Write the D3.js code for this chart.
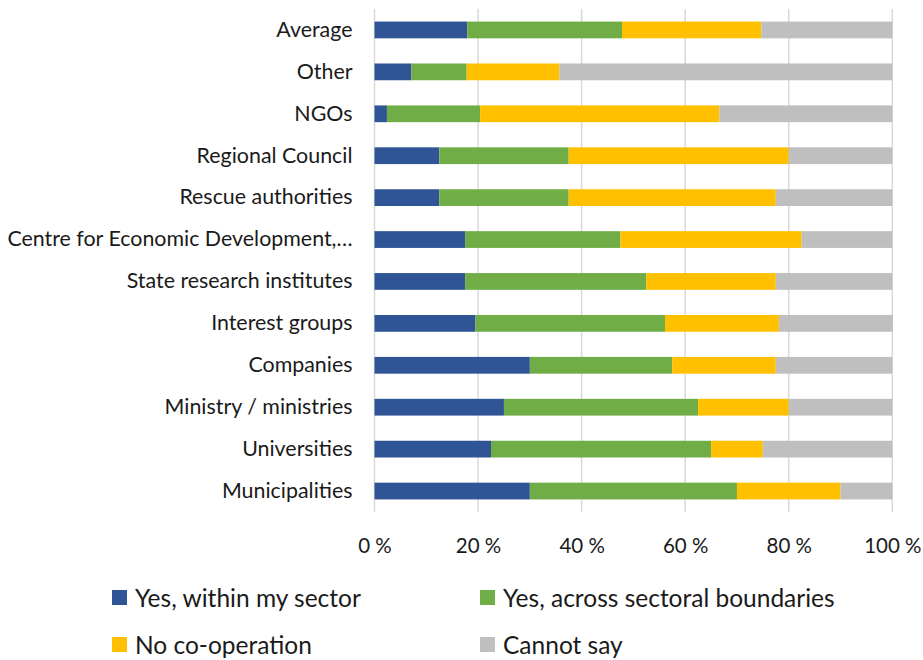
<!DOCTYPE html>
<html>
<head>
<meta charset="utf-8">
<script src="https://cdn.jsdelivr.net/npm/d3@7"></script>
<style>
  html, body { margin: 0; padding: 0; background: #fff; }
  svg { display: block; font-family: Lato, "Open Sans", sans-serif; }
</style>
</head>
<body>
<svg id="chart" width="923" height="660"></svg>
<script>
// Categories, top to bottom
const categories = [
  "Average", "Other", "NGOs", "Regional Council", "Rescue authorities",
  "Centre for Economic Development,…", "State research institutes",
  "Interest groups", "Companies", "Ministry / ministries",
  "Universities", "Municipalities"
];

// Shares (%) per response
const withinSector = [17.9, 7.1, 2.4, 12.5, 12.5, 17.5, 17.5, 19.5, 30.0, 25.0, 22.5, 30.0];
const acrossSectors = [29.9, 10.7, 18.0, 25.0, 25.0, 30.0, 35.0, 36.6, 27.5, 37.5, 42.5, 40.0];
const noCooperation = [26.9, 17.9, 46.2, 42.5, 40.0, 35.0, 25.0, 22.0, 20.0, 17.5, 10.0, 20.0];
const cannotSay    = [25.3, 64.3, 33.4, 20.0, 22.5, 17.5, 22.5, 22.0, 22.5, 20.0, 25.0, 10.0];

const seriesNames = ["Yes, within my sector", "Yes, across sectoral boundaries", "No co-operation", "Cannot say"];
const seriesColors = ["#2F5597", "#70AD47", "#FFC000", "#BFBFBF"];
const tickValues = [0, 20, 40, 60, 80, 100];

const rows = categories.map((c, i) => ({
  category: c,
  s0: withinSector[i], s1: acrossSectors[i], s2: noCooperation[i], s3: cannotSay[i]
}));
const stack = d3.stack().keys(["s0", "s1", "s2", "s3"])(rows);

const svg = d3.select("#chart");
const plot = { left: 374.5, right: 892.3, top: 9, bottom: 512 };

const x = d3.scaleLinear().domain([0, 100]).range([plot.left, plot.right]);
const y = d3.scaleBand().domain(categories).range([plot.top, plot.bottom]).paddingInner(0.6).paddingOuter(0.3);

// Vertical gridlines
svg.append("g")
  .selectAll("line")
  .data(tickValues)
  .join("line")
  .attr("x1", d => x(d)).attr("x2", d => x(d))
  .attr("y1", plot.top).attr("y2", plot.bottom)
  .attr("stroke", "#D9D9D9")
  .attr("stroke-width", 1.5);

// Stacked bars
svg.append("g")
  .selectAll("g")
  .data(stack)
  .join("g")
  .attr("fill", (d, i) => seriesColors[i])
  .selectAll("rect")
  .data(d => d)
  .join("rect")
  .attr("x", d => x(d[0]))
  .attr("width", d => x(d[1]) - x(d[0]))
  .attr("y", d => y(d.data.category))
  .attr("height", y.bandwidth());

// Category labels
const yAxis = d3.axisLeft(y).tickSize(0).tickPadding(22);
const gy = svg.append("g").attr("transform", `translate(${plot.left},0)`).call(yAxis);
gy.select(".domain").remove();
gy.selectAll("text")
  .attr("font-family", "Lato, sans-serif")
  .attr("font-size", 21.4)
  .attr("fill", "#1a1a1a");

// Percentage axis labels
const xAxis = d3.axisBottom(x).tickValues(tickValues).tickSize(0).tickPadding(0).tickFormat(d => d + " %");
const gx = svg.append("g").attr("transform", `translate(0,${plot.bottom + 26})`).call(xAxis);
gx.select(".domain").remove();
gx.selectAll("text")
  .attr("font-family", "Lato, sans-serif")
  .attr("font-size", 20.5)
  .attr("fill", "#1a1a1a");

// Legend
const legendPos = [[112, 598], [480, 598], [112, 645], [480, 645]];
const legend = svg.append("g")
  .selectAll("g")
  .data(seriesNames)
  .join("g")
  .attr("transform", (d, i) => `translate(${legendPos[i][0]},${legendPos[i][1]})`);
legend.append("rect")
  .attr("x", 0).attr("y", -8).attr("width", 15).attr("height", 15)
  .attr("fill", (d, i) => seriesColors[i]);
legend.append("text")
  .attr("x", 23).attr("y", 0).attr("dy", "0.35em")
  .attr("font-family", "Lato, sans-serif")
  .attr("font-size", 24.5)
  .attr("fill", "#1a1a1a")
  .text(d => d);
</script>
</body>
</html>
